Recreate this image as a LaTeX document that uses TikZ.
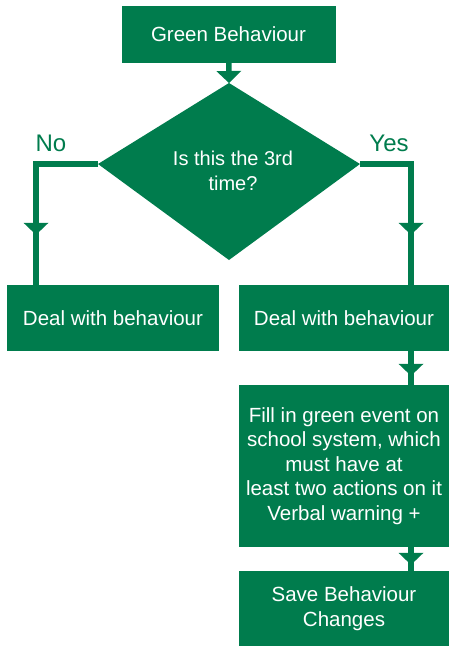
\documentclass[tikz,border=0pt]{standalone}
\usepackage{fontspec}
\setmainfont{Liberation Sans}
\usetikzlibrary{arrows.meta, decorations.markings}

\definecolor{flowgreen}{RGB}{0,124,77}

\tikzset{
  box/.style={fill=flowgreen, text=white, inner sep=0pt, align=center,
    font=\fontsize{20.5}{24.6}\selectfont},
  conn/.style={draw=flowgreen, line width=5.5pt},
  tiphead/.style={-{Triangle[width=25pt, length=12pt, line width=0pt]}},
  midtip/.style={postaction={decorate}, decoration={markings,
    mark=at position #1 with {\arrow{Triangle[width=25pt, length=12pt, line width=0pt]}}}},
  lbl/.style={text=flowgreen, font=\fontsize{24}{28}\selectfont}
}

\begin{document}
\begin{tikzpicture}[x=1pt, y=-1pt]

\useasboundingbox (0, 0) rectangle (449, 646);

% Start
\node[box, minimum width=214pt, minimum height=57pt] (start) at (228.5, 34.3) {Green Behaviour};

% Decision
\coordinate (dtop) at (229, 83);
\coordinate (dright) at (360, 164);
\coordinate (dbot) at (229, 260);
\coordinate (dleft) at (98, 164);
\fill[flowgreen] (dtop) -- (dright) -- (dbot) -- (dleft) -- cycle;
\node[align=center, text=white, font=\fontsize{20}{25}\selectfont] (quest) at (233, 171) {Is this the 3rd\\time?};

% Labels
\node[lbl] (no) at (51, 143) {No};
\node[lbl] (yes) at (389, 143) {Yes};

% Boxes
\node[box, minimum width=212pt, minimum height=66pt] (lbox) at (113, 318) {Deal with behaviour};
\node[box, minimum width=210pt, minimum height=66pt] (rbox) at (344, 318) {Deal with behaviour};
\node[box, minimum width=210pt, minimum height=162pt] (fill) at (344, 466)
  {Fill in green event on\\school system, which\\must have at\\least two actions on it\\Verbal warning +};
\node[box, minimum width=210pt, minimum height=75pt] (save) at (344, 608.5) {Save Behaviour\\Changes};

% Bends
\coordinate (nobend) at (36, 164);
\coordinate (yesbend) at (411, 164);

% Lines
\draw[conn, tiphead] (start) -- (dtop);
\draw[conn, midtip=-50pt] (dleft) -- (nobend) -- (nobend |- lbox.north);
\draw[conn, midtip=-50pt] (dright) -- (yesbend) -- (yesbend |- rbox.north);
\draw[conn, midtip=-9pt] (yesbend |- rbox.south) -- (yesbend |- fill.north);
\draw[conn, midtip=-6pt] (yesbend |- fill.south) -- (yesbend |- save.north);

\end{tikzpicture}
\end{document}
